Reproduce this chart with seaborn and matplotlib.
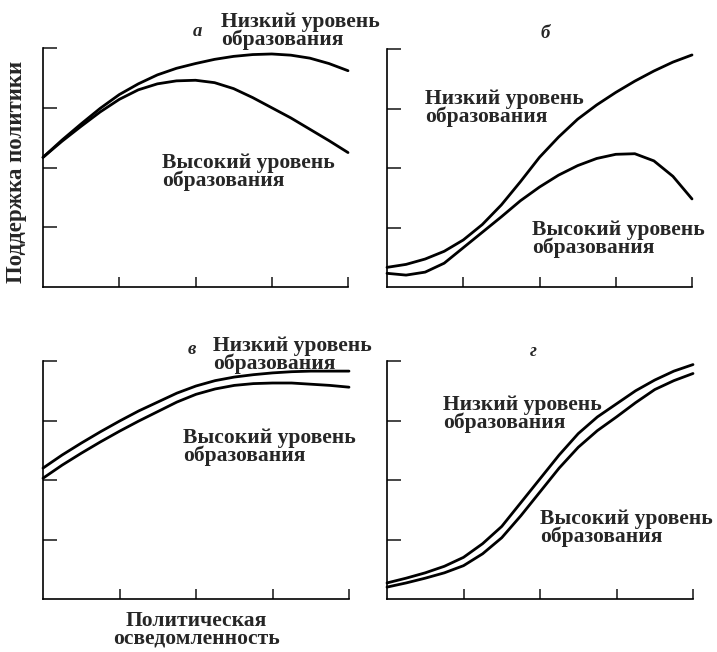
import matplotlib
matplotlib.use("Agg")
import matplotlib.pyplot as plt
import seaborn as sns

# Политическая осведомленность (шкала 0..4), отсчеты по рисунку
osved = [0, 0.25, 0.5, 0.75, 1, 1.25, 1.5, 1.75, 2, 2.25, 2.5, 2.75, 3, 3.25, 3.5, 3.75, 4]

# а
a_nizk = [2.17, 2.46, 2.73, 2.99, 3.22, 3.40, 3.55, 3.66, 3.74, 3.81, 3.86, 3.89, 3.90, 3.88, 3.83, 3.74, 3.62]
a_vys = [2.17, 2.44, 2.69, 2.93, 3.14, 3.30, 3.40, 3.45, 3.46, 3.42, 3.32, 3.17, 3.00, 2.83, 2.64, 2.45, 2.25]
# б
b_nizk = [0.33, 0.38, 0.47, 0.60, 0.79, 1.05, 1.38, 1.77, 2.18, 2.52, 2.82, 3.06, 3.27, 3.46, 3.63, 3.78, 3.90]
b_vys = [0.23, 0.20, 0.25, 0.40, 0.66, 0.92, 1.18, 1.45, 1.68, 1.88, 2.04, 2.16, 2.23, 2.24, 2.12, 1.86, 1.48]
# в
v_nizk = [2.20, 2.42, 2.62, 2.81, 2.99, 3.16, 3.31, 3.46, 3.58, 3.67, 3.73, 3.77, 3.80, 3.82, 3.83, 3.83, 3.83]
v_vys = [2.03, 2.25, 2.45, 2.64, 2.82, 2.99, 3.15, 3.31, 3.44, 3.53, 3.59, 3.62, 3.63, 3.63, 3.61, 3.59, 3.56]
# г
g_nizk = [0.27, 0.35, 0.44, 0.55, 0.70, 0.93, 1.22, 1.62, 2.02, 2.42, 2.78, 3.06, 3.28, 3.50, 3.68, 3.83, 3.94]
g_vys = [0.20, 0.27, 0.35, 0.44, 0.56, 0.76, 1.03, 1.40, 1.80, 2.20, 2.55, 2.83, 3.06, 3.30, 3.52, 3.67, 3.79]

tiki = [1, 2, 3, 4]
nizk_txt = "Низкий уровень\nобразования"
vys_txt = "Высокий уровень\nобразования"

sns.set_style("white")
plt.rcParams['font.family'] = ['Liberation Serif', 'DejaVu Serif']

W, H = 717, 652
fig = plt.figure(figsize=(W / 100, H / 100), dpi=100)


def px(x, y):
    # пиксели картинки -> доли фигуры
    return x / W, 1 - y / H


def panel(left, top, right, bottom, nizk, vys):
    x0, y0 = px(left, bottom)
    x1, y1 = px(right, top)
    ax = fig.add_axes([x0, y0, x1 - x0, y1 - y0])
    sns.lineplot(x=osved, y=nizk, ax=ax, color='black', lw=2.0, clip_on=False)
    sns.lineplot(x=osved, y=vys, ax=ax, color='black', lw=2.0, clip_on=False)
    ax.set_xlim(0, 4)
    ax.set_ylim(0, 4)
    ax.set_xticks(tiki)
    ax.set_yticks(tiki)
    ax.set_xticklabels([])
    ax.set_yticklabels([])
    ax.tick_params(axis='x', direction='in', length=7, width=1.2, bottom=True)
    ax.tick_params(axis='y', direction='in', length=10, width=1.2, left=True)
    sns.despine(ax=ax)
    for s in ['left', 'bottom']:
        ax.spines[s].set_linewidth(1.2)
        ax.spines[s].set_color('black')
    ax.set_facecolor('none')
    return ax


panel(43, 48, 348, 287, a_nizk, a_vys)
panel(387, 49, 692, 287, b_nizk, b_vys)
panel(43, 361, 349, 599, v_nizk, v_vys)
panel(387, 361, 693, 599, g_nizk, g_vys)

lab = dict(fontsize=15.5, fontweight='bold', linespacing=0.85, va='center', ha='left')
let = dict(fontsize=13.5, style='italic', fontweight='bold', va='center', ha='center')

# а
fig.text(*px(221, 31), nizk_txt, **lab)
fig.text(*px(162, 172), vys_txt, **lab)
fig.text(*px(197, 32), "а", **let)
# б
fig.text(*px(425, 108), nizk_txt, **lab)
fig.text(*px(532, 239), vys_txt, **lab)
fig.text(*px(545, 33), "б", **let)
# в
fig.text(*px(213, 355), nizk_txt, **lab)
fig.text(*px(183, 447), vys_txt, **lab)
fig.text(*px(192, 349), "в", **let)
# г
fig.text(*px(443, 414), nizk_txt, **lab)
fig.text(*px(540, 528), vys_txt, **lab)
fig.text(*px(533, 352), "г", **let)

fig.text(*px(196, 630), "Политическая\nосведомленность", fontsize=15.5, fontweight='bold',
         linespacing=0.85, ha='center', va='center')
fig.text(*px(17, 172), "Поддержка политики", fontsize=16.5, fontweight='bold', rotation=90,
         ha='center', va='center')

fig.savefig("out.png", dpi=100, facecolor='white')
